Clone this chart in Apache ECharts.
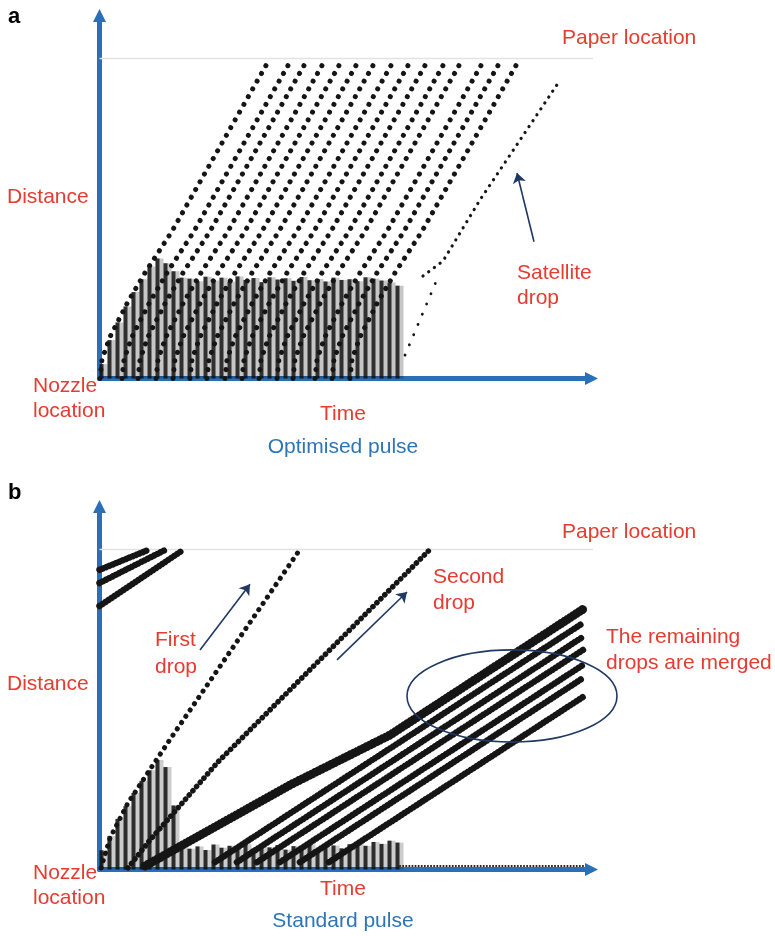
<!DOCTYPE html>
<html><head><meta charset="utf-8">
<script src="https://cdn.jsdelivr.net/npm/echarts/dist/echarts.min.js"></script>
<style>html,body{margin:0;padding:0;background:#fff}#c{width:775px;height:936px}</style>
</head><body><div id="c"></div>
<script>
// ---------- Panel a (optimised pulse) ----------
const aDrops = [
  [[0.1,0],[0.5,6],[2.1,13],[5.7,24],[9.1,33],[14.5,46],[34.1,100]],
  [[4.5,0],[4.9,6],[6.5,13],[10.1,24],[13.5,33],[18.9,46],[38.5,100]],
  [[7.7,0],[8.1,6],[9.7,13],[13.3,24],[16.7,33],[22.1,46],[41.7,100]],
  [[11.3,0],[11.7,6],[13.3,13],[16.9,24],[20.3,33],[25.7,46],[45.3,100]],
  [[14.7,0],[15.1,6],[16.7,13],[20.3,24],[23.7,33],[29.1,46],[48.7,100]],
  [[18.1,0],[18.5,6],[20.1,13],[23.7,24],[27.1,33],[32.5,46],[52.1,100]],
  [[21.5,0],[21.9,6],[23.5,13],[27.1,24],[30.5,33],[35.9,46],[55.5,100]],
  [[25.1,0],[25.5,6],[27.1,13],[30.7,24],[34.1,33],[39.5,46],[59.1,100]],
  [[28.5,0],[28.9,6],[30.5,13],[34.1,24],[37.5,33],[42.9,46],[62.5,100]],
  [[31.9,0],[32.3,6],[33.9,13],[37.5,24],[40.9,33],[46.3,46],[65.9,100]],
  [[35.5,0],[35.9,6],[37.5,13],[41.1,24],[44.5,33],[49.9,46],[69.5,100]],
  [[38.7,0],[39.1,6],[40.7,13],[44.3,24],[47.7,33],[53.1,46],[72.7,100]],
  [[43.1,0],[43.5,6],[45.1,13],[48.7,24],[52.1,33],[57.5,46],[77.1,100]],
  [[46.5,0],[46.9,6],[48.5,13],[52.1,24],[55.5,33],[60.9,46],[80.5,100]],
  [[50.1,0],[50.5,6],[52.1,13],[55.7,24],[59.1,33],[64.5,46],[84.1,100]]
];
const aSatellite = [[64.7,32.0],[68.7,36.7],[76.1,55.8],[91.9,92.7]];
const aTail = [[61.1,7.3],[67.3,30.2]];
const aStreakX = [0.4,2.0,3.6,5.2,6.8,8.4,10.0,11.6,13.2,14.8,16.4,18.0,19.6,21.2,22.8,24.4,26.0,27.6,29.2,30.8,32.4,34.0,35.6,37.2,38.8,40.4,42.0,43.6,45.2,46.8,48.4,50.0,51.6,53.2,54.8,56.4,58.0,59.6];
const aStreakH = [4.5,12.0,17.5,22.5,27.0,31.0,35.0,37.5,36.0,33.5,31.5,31.2,30.4,31.8,30.6,31.5,30.2,31.9,30.8,31.4,30.1,31.6,30.9,31.3,30.5,31.7,30.7,31.1,30.3,31.5,30.8,31.0,30.4,31.6,31.2,30.6,30.0,29.0];
const aArrowSatellite = [[86.9,42.7],[83.5,64.2]];

// ---------- Panel b (standard pulse) ----------
const bPrevDrops = [
  [[0,93.6],[9.7,99.8]],
  [[0,89.5],[13.1,99.8]],
  [[0,82.3],[16.7,99.8]]
];
const bFirstDrop = [[0.3,0.5],[2.1,9.8],[5.7,20.8],[11.1,33.6],[14.7,42.0],[40.1,100]];
const bSecondDrop = [[5.7,0.5],[10.1,9.2],[23.7,33.6],[30.1,43.6],[66.1,100]];
const bMerged = [
  [[9.1,1.1],[38.1,26.4],[58.1,42.0],[97.1,81.7]],
  [[23.1,2.3],[96.7,77.0]],
  [[27.5,2.3],[96.7,72.7]],
  [[31.5,2.3],[96.7,68.6]],
  [[36.1,2.3],[96.7,63.9]],
  [[40.1,2.3],[96.7,59.8]],
  [[45.9,2.3],[96.7,53.9]]
];
const bBaseline = [[60.1,1.1],[97.1,1.1]];
const bStreakX = [0.4,2.0,3.6,5.2,6.8,8.4,10.0,11.6,13.2,14.8,16.4,18.0,19.6,21.2,22.8,24.4,26.0,27.6,29.2,30.8,32.4,34.0,35.6,37.2,38.8,40.4,42.0,43.6,45.2,46.8,48.4,50.0,51.6,53.2,54.8,56.4,58.0,59.6];
const bStreakH = [6.0,10.5,15.8,19.8,23.9,27.7,31.0,34.2,32.0,20.0,7.0,6.5,7.2,6.1,7.8,6.8,7.4,6.3,7.9,6.6,7.1,6.9,7.6,6.2,7.3,6.7,7.8,6.4,7.0,7.5,6.6,7.9,8.2,7.4,8.6,8.0,9.0,8.4];
const bArrowFirst = [[20.1,68.6],[30.1,89.1]];
const bArrowSecond = [[47.5,65.5],[61.5,86.7]];
const bEllipse = [82.5, 54.2, 21, 14.4]; // centre time, centre distance, half-width, half-height

// ---------- shared ----------
const PAPER = 100;
const paperLine = [[0,PAPER],[101.7,PAPER]];
const X_MAX = 98.4, Y_MAX = 113.4;

const RED = '#e53b30', BLUE_T = '#2e75b6', AXIS = '#2b70b6', NAVY = '#203864', INK = '#151515';
const FONT = '"Liberation Sans", Arial, sans-serif';

function axisPair(gi){
  const common = {type:'value', gridIndex:gi, min:0, splitLine:{show:false}, axisTick:{show:false}, axisLabel:{show:false}};
  return {
    x: Object.assign({}, common, {max:X_MAX, axisLine:{show:true, onZero:false, symbol:['none','triangle'], symbolSize:[13,13], lineStyle:{color:AXIS, width:5}}}),
    y: Object.assign({}, common, {max:Y_MAX, axisLine:{show:true, onZero:false, symbol:['none','triangle'], symbolSize:[13,13], lineStyle:{color:AXIS, width:5}}})
  };
}
const A0 = axisPair(0), A1 = axisPair(1);

function dotted(data, gi, width, gap, color, z){
  return {type:'line', data:data, xAxisIndex:gi, yAxisIndex:gi, symbol:'none', silent:true, animation:false, z:z||3,
    lineStyle:{color:color||INK, width:width, type:[0.1,gap], cap:'round', join:'round'}};
}
function streaks(xs, hs, gi, color, w, z){
  return {type:'bar', data:xs.map((x,i)=>[x,hs[i]]), xAxisIndex:gi, yAxisIndex:gi, barWidth:w, barGap:'-100%', silent:true, animation:false, z:z,
    itemStyle:{color:color}};
}
function arrow(coords, gi){
  return {type:'lines', coordinateSystem:'cartesian2d', xAxisIndex:gi, yAxisIndex:gi, silent:true, animation:false, z:5,
    symbol:['none','arrow'], symbolSize:10,
    lineStyle:{color:NAVY, width:1.6, opacity:1, curveness:0},
    data:[{coords:coords}]};
}

const series = [];
// panel a
series.push({type:'line', data:paperLine, xAxisIndex:0, yAxisIndex:0, symbol:'none', clip:false, silent:true, animation:false, z:1, lineStyle:{color:'#e2e2e2', width:1.5}});
series.push(streaks(aStreakX, aStreakH, 0, 'rgba(0,0,0,0.22)', 8, 1));
series.push(streaks(aStreakX, aStreakH, 0, 'rgba(15,15,15,0.82)', 4, 2));
aDrops.forEach(d => series.push(dotted(d, 0, 5, 8.8)));
series.push(dotted(aSatellite, 0, 3.2, 7));
series.push(dotted(aTail, 0, 2.8, 11));
series.push(arrow(aArrowSatellite, 0));
// panel b
series.push({type:'line', data:paperLine, xAxisIndex:1, yAxisIndex:1, symbol:'none', clip:false, silent:true, animation:false, z:1, lineStyle:{color:'#e2e2e2', width:1.5}});
series.push(streaks(bStreakX, bStreakH, 1, 'rgba(0,0,0,0.2)', 8, 1));
series.push(streaks(bStreakX, bStreakH, 1, 'rgba(15,15,15,0.85)', 4, 2));
bPrevDrops.forEach(d => series.push(dotted(d, 1, 6.5, 3.5)));
series.push(dotted(bFirstDrop, 1, 5, 7.5));
series.push(dotted(bSecondDrop, 1, 5.5, 5.5));
bMerged.forEach((d,i) => series.push(dotted(d, 1, i===0 ? 9 : 6.5, 3.5)));
series.push(dotted(bBaseline, 1, 2, 3));
series.push(arrow(bArrowFirst, 1));
series.push(arrow(bArrowSecond, 1));

const chart = echarts.init(document.getElementById('c'), null, {renderer:'canvas'});
chart.setOption({
  animation:false,
  backgroundColor:'#fff',
  grid:[
    {left:99.5, top:15.5, width:492, height:363, outerBoundsMode:'none', containLabel:false},
    {left:99.5, top:506.5, width:492, height:363, outerBoundsMode:'none', containLabel:false}
  ],
  xAxis:[A0.x, A1.x],
  yAxis:[A0.y, A1.y],
  series:series
});

// annotations
const labels = [
  ['a', 8, 17, '#000', 'bold 22px '+FONT, 'left'],
  ['b', 8, 493, '#000', 'bold 22px '+FONT, 'left'],
  ['Paper location', 562, 38, RED, '21px '+FONT, 'left'],
  ['Paper location', 562, 532, RED, '21px '+FONT, 'left'],
  ['Distance', 7, 197, RED, '21px '+FONT, 'left'],
  ['Distance', 7, 684, RED, '21px '+FONT, 'left'],
  ['Nozzle', 33, 386, RED, '21px '+FONT, 'left'],
  ['location', 33, 411, RED, '21px '+FONT, 'left'],
  ['Nozzle', 33, 873, RED, '21px '+FONT, 'left'],
  ['location', 33, 898, RED, '21px '+FONT, 'left'],
  ['Time', 343, 414, RED, '21px '+FONT, 'center'],
  ['Time', 343, 889, RED, '21px '+FONT, 'center'],
  ['Optimised pulse', 343, 447, BLUE_T, '21px '+FONT, 'center'],
  ['Standard pulse', 343, 921, BLUE_T, '21px '+FONT, 'center'],
  ['Satellite', 517, 273, RED, '21px '+FONT, 'left'],
  ['drop', 517, 298, RED, '21px '+FONT, 'left'],
  ['First', 155, 640, RED, '21px '+FONT, 'left'],
  ['drop', 155, 667, RED, '21px '+FONT, 'left'],
  ['Second', 433, 577, RED, '21px '+FONT, 'left'],
  ['drop', 433, 603, RED, '21px '+FONT, 'left'],
  ['The remaining', 606, 637, RED, '21px '+FONT, 'left'],
  ['drops are merged', 606, 663, RED, '21px '+FONT, 'left']
];
const graphics = labels.map(l => ({type:'text', x:l[1], y:l[2], z:50, silent:true,
  style:{text:l[0], fill:l[3], font:l[4], align:l[5], verticalAlign:'middle', textAlign:l[5], textVerticalAlign:'middle'}}));
const c = chart.convertToPixel({xAxisIndex:1, yAxisIndex:1}, [bEllipse[0], bEllipse[1]]);
const e = chart.convertToPixel({xAxisIndex:1, yAxisIndex:1}, [bEllipse[0]+bEllipse[2], bEllipse[1]+bEllipse[3]]);
graphics.push({type:'ellipse', z:40, silent:true, shape:{cx:c[0], cy:c[1], rx:Math.abs(e[0]-c[0]), ry:Math.abs(c[1]-e[1])},
  style:{fill:'none', stroke:NAVY, lineWidth:1.6}});
chart.setOption({graphic:graphics});
</script></body></html>
